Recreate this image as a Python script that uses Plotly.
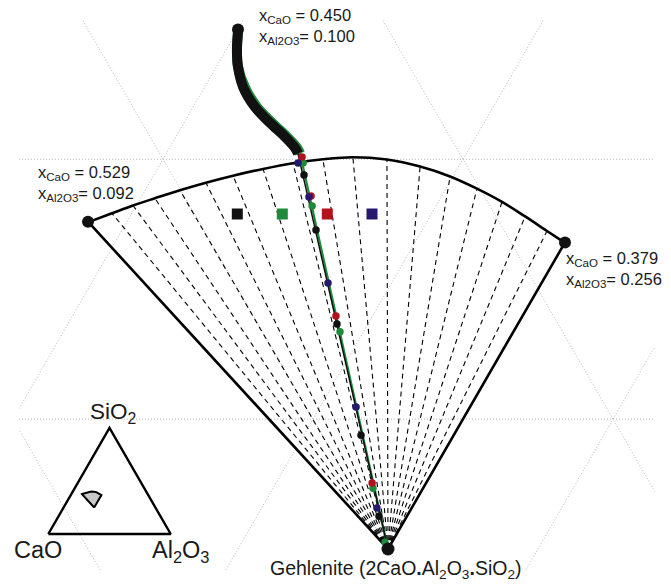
import numpy as np
import plotly.graph_objects as go

W, H = 671, 585

# ---------------- data (mole fractions: xCaO, xAl2O3) ----------------
gehlenite = [0.500, 0.250]          # 2CaO.Al2O3.SiO2
start_point = [0.450, 0.100]
left_corner = [0.537, 0.087]
right_corner = [0.382, 0.250]

# boundary arc of the fan (left corner -> right corner); inner points are ray ends
arc_cao = [0.5367, 0.5274, 0.5189, 0.5102, 0.5003, 0.4902, 0.4798, 0.4685, 0.4574, 0.4467,
           0.4363, 0.4254, 0.4157, 0.4076, 0.4010, 0.3952, 0.3903, 0.3858, 0.3821]
arc_al2o3 = [0.0874, 0.0934, 0.0989, 0.1048, 0.1116, 0.1188, 0.1265, 0.1352, 0.1441, 0.1533,
             0.1629, 0.1747, 0.1871, 0.1990, 0.2103, 0.2212, 0.2317, 0.2418, 0.2501]

# composition path (thick part), black and green series
path_black_cao = [0.4505, 0.4543, 0.4572, 0.4594, 0.4593, 0.4573, 0.4550, 0.4538, 0.4539]
path_black_al2o3 = [0.1005, 0.1036, 0.1072, 0.1128, 0.1206, 0.1287, 0.1364, 0.1418, 0.1439]
path_green_cao = [0.4505, 0.4543, 0.4572, 0.4588, 0.4586, 0.4566, 0.4543, 0.4531, 0.4532]
path_green_al2o3 = [0.1005, 0.1036, 0.1072, 0.1134, 0.1213, 0.1294, 0.1371, 0.1425, 0.1446]

# dots along the path for each series
black_cao = [0.4560, 0.4626, 0.4737, 0.4871, 0.4967]
black_al2o3 = [0.1500, 0.1646, 0.1897, 0.2191, 0.2407]
navy_cao = [0.4557, 0.4586, 0.4688, 0.4833, 0.4958]
navy_al2o3 = [0.1457, 0.1559, 0.1788, 0.2120, 0.2384]
red_cao = [0.4532, 0.4577, 0.4725, 0.4926]
red_al2o3 = [0.1459, 0.1564, 0.1878, 0.2320]
green_cao = [0.4540, 0.4593, 0.4742, 0.4933, 0.4997]
green_al2o3 = [0.1474, 0.1587, 0.1922, 0.2333, 0.2477]

grid_values = [0.1, 0.2, 0.3, 0.4, 0.5, 0.6, 0.7, 0.8, 0.9]

label_top = ["0.450", "0.100"]
label_left = ["0.529", "0.092"]
label_right = ["0.379", "0.256"]
vertex_names = ["CaO", "Al<sub>2</sub>O<sub>3</sub>", "SiO<sub>2</sub>"]
gehlenite_name = "Gehlenite (2CaO<b>.</b>Al<sub>2</sub>O<sub>3</sub><b>.</b>SiO<sub>2</sub>)"

C_BLACK = "#111111"
C_GREEN = "#1f8a3a"
C_RED = "#b3121d"
C_NAVY = "#24196f"


def tern(cao, al):
    cao = np.atleast_1d(np.asarray(cao, float))
    al = np.atleast_1d(np.asarray(al, float))
    si = 1.0 - cao - al
    return al + 0.5 * si, si * np.sqrt(3) / 2


# ---------------- view geometry (pixels) ----------------
BX0, BX1, BY0, BY1 = 19, 655, 20, 570
S = 3000.0
GPX, GPY = 388.0, 549.0
gx, gy = [v[0] for v in tern(*gehlenite)]
xr = [gx + (BX0 - GPX) / S, gx + (BX1 - GPX) / S]
yr = [gy - (BY1 - GPY) / S, gy + (GPY - BY0) / S]

S2 = 122.4
IX0, IY0 = 48.3, 534.0
x2r = [(BX0 - IX0) / S2, (BX1 - IX0) / S2]
y2r = [(IY0 - BY1) / S2, (IY0 - BY0) / S2]

fig = go.Figure()

# ternary grid
gxs, gys = [], []
for v in grid_values:
    for (c1, a1), (c2, a2) in [((1 - v, 0.0), (0.0, 1 - v)),   # const SiO2
                               ((1 - v, v), (0.0, v)),          # const Al2O3
                               ((v, 1 - v), (v, 0.0))]:         # const CaO
        x, y = tern([c1, c2], [a1, a2])
        gxs += list(x) + [None]
        gys += list(y) + [None]
fig.add_trace(go.Scatter(x=gxs, y=gys, mode="lines",
                         line=dict(color="#b8b8b8", width=1, dash="1px,2px"),
                         hoverinfo="skip"))

# dashed rays from gehlenite to arc
ax, ay = tern(arc_cao, arc_al2o3)
rx, ry = [], []
for i in range(1, len(ax) - 1):
    rx += [gx, ax[i], None]
    ry += [gy, ay[i], None]
fig.add_trace(go.Scatter(x=rx, y=ry, mode="lines",
                         line=dict(color="#000000", width=1.1, dash="5px,4px"),
                         hoverinfo="skip"))

# fan sides and arc
lx, ly = tern(*left_corner)
rcx, rcy = tern(*right_corner)
fig.add_trace(go.Scatter(x=[lx[0], gx, rcx[0]], y=[ly[0], gy, rcy[0]], mode="lines",
                         line=dict(color="#000000", width=2.6)))
fig.add_trace(go.Scatter(x=ax, y=ay, mode="lines",
                         line=dict(color="#000000", width=2.6, shape="spline", smoothing=1)))

# composition paths
pgx, pgy = tern(path_green_cao, path_green_al2o3)
pbx, pby = tern(path_black_cao, path_black_al2o3)
fig.add_trace(go.Scatter(x=list(pgx) + [gx], y=list(pgy) + [gy], mode="lines",
                         line=dict(color=C_GREEN, width=2.2)))
fig.add_trace(go.Scatter(x=pgx, y=pgy, mode="lines",
                         line=dict(color=C_GREEN, width=10, shape="spline")))
fig.add_trace(go.Scatter(x=pbx, y=pby, mode="lines",
                         line=dict(color=C_BLACK, width=10, shape="spline")))
fig.add_trace(go.Scatter(x=[pbx[-1], gx], y=[pby[-1], gy], mode="lines",
                         line=dict(color=C_BLACK, width=1.5)))

# dots
for cao, al, col in [(black_cao, black_al2o3, C_BLACK), (green_cao, green_al2o3, C_GREEN),
                     (red_cao, red_al2o3, C_RED), (navy_cao, navy_al2o3, C_NAVY)]:
    x, y = tern(cao, al)
    fig.add_trace(go.Scatter(x=x, y=y, mode="markers",
                             marker=dict(color=col, size=7.5, line=dict(width=0))))

# big end points
for pt, size in [(start_point, 12), (left_corner, 12), (right_corner, 12), (gehlenite, 13)]:
    x, y = tern(*pt)
    fig.add_trace(go.Scatter(x=x, y=y, mode="markers",
                             marker=dict(color=C_BLACK, size=size)))

# inset triangle
tx, ty = tern([1.0, 0.0, 0.0, 1.0], [0.0, 1.0, 0.0, 0.0])
fig.add_trace(go.Scatter(x=tx, y=ty, mode="lines", xaxis="x2", yaxis="y2",
                         line=dict(color="#000000", width=2.4)))
ix, iy = tern([gehlenite[0]] + arc_cao + [gehlenite[0]],
              [gehlenite[1]] + arc_al2o3 + [gehlenite[1]])
fig.add_trace(go.Scatter(x=ix, y=iy, mode="lines", xaxis="x2", yaxis="y2",
                         fill="toself", fillcolor="#c8c8c8",
                         line=dict(color="#000000", width=2)))


def P(px, py):
    return px / W, 1 - py / H


ann = []
FONT = "Arial, Liberation Sans, sans-serif"


def add_label(px, py, text, size, xanchor="left"):
    x, y = P(px, py)
    ann.append(dict(x=x, y=y, xref="paper", yref="paper", text=text, showarrow=False,
                    xanchor=xanchor, yanchor="middle",
                    font=dict(family=FONT, size=size, color="#1a1a1a")))


for (px, py), vals in [((257, 16), label_top), ((36, 173), label_left), ((564, 259), label_right)]:
    add_label(px, py, "x<sub>CaO</sub> = " + vals[0], 16.5)
    add_label(px, py + 21, "x<sub>Al2O3</sub>= " + vals[1], 16.5)

add_label(395, 569, gehlenite_name, 19.5, "center")
add_label(38, 550, vertex_names[0], 23.5, "center")
add_label(181, 551, vertex_names[1], 23.5, "center")
add_label(113, 413, vertex_names[2], 22.5, "center")

shapes = []
for cx, col in [(237.3, C_BLACK), (282.3, C_GREEN), (327.3, C_RED), (372, C_NAVY)]:
    x0, y0 = P(cx - 5.5, 214 + 5.5)
    x1, y1 = P(cx + 5.5, 214 - 5.5)
    shapes.append(dict(type="rect", xref="paper", yref="paper", x0=x0, y0=y0, x1=x1, y1=y1,
                       fillcolor=col, line=dict(width=0)))

dom_x = [BX0 / W, BX1 / W]
dom_y = [1 - BY1 / H, 1 - BY0 / H]
fig.update_layout(
    width=W, height=H, margin=dict(l=0, r=0, t=0, b=0),
    paper_bgcolor="white", plot_bgcolor="white", showlegend=False,
    xaxis=dict(range=xr, domain=dom_x, visible=False, fixedrange=True),
    yaxis=dict(range=yr, domain=dom_y, visible=False, fixedrange=True),
    xaxis2=dict(range=x2r, overlaying="x", anchor="y2", visible=False),
    yaxis2=dict(range=y2r, overlaying="y", anchor="x2", visible=False),
    annotations=ann, shapes=shapes,
)

fig.write_html("out.html", config={"displayModeBar": False},
               post_script="document.body.style.margin='0px';document.body.style.overflow='hidden';")
